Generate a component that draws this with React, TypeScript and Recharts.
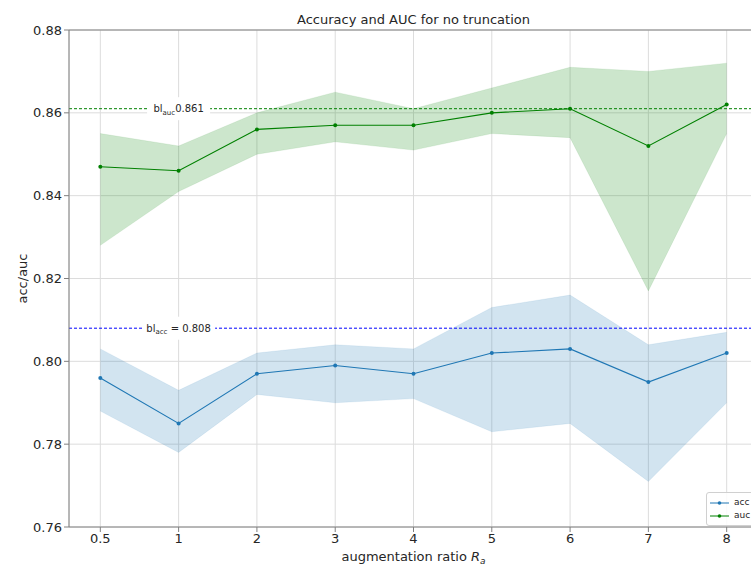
import React from 'react';
import {
  ComposedChart,
  Line,
  Area,
  XAxis,
  YAxis,
  CartesianGrid,
  ReferenceLine,
  Legend,
} from 'recharts';

// ---------- data ----------
const xLabels = ['0.5', '1', '2', '3', '4', '5', '6', '7', '8'];
const accMean = [0.796, 0.785, 0.797, 0.799, 0.797, 0.802, 0.803, 0.795, 0.802];
const accLow = [0.788, 0.778, 0.792, 0.79, 0.791, 0.783, 0.785, 0.771, 0.79];
const accHigh = [0.803, 0.793, 0.802, 0.804, 0.803, 0.813, 0.816, 0.804, 0.807];
const aucMean = [0.847, 0.846, 0.856, 0.857, 0.857, 0.86, 0.861, 0.852, 0.862];
const aucLow = [0.828, 0.841, 0.85, 0.853, 0.851, 0.855, 0.854, 0.817, 0.855];
const aucHigh = [0.855, 0.852, 0.86, 0.865, 0.861, 0.866, 0.871, 0.87, 0.872];
const yTicks = [0.76, 0.78, 0.8, 0.82, 0.84, 0.86, 0.88];
const blAcc = 0.808;
const blAuc = 0.861;
const labelAtIndex = 1; // baseline labels centered at category "1"

const xDomain: [number, number] = [-0.4, 8.4];
const xTicks = xLabels.map((_, i) => i);

const data = xLabels.map((label, i) => ({
  idx: i,
  label,
  acc: accMean[i],
  auc: aucMean[i],
  accBand: [accLow[i], accHigh[i]],
  aucBand: [aucLow[i], aucHigh[i]],
}));

// ---------- styles ----------
const FONT = 'DejaVu Sans, sans-serif';
const BLUE = '#1f77b4';
const GREEN = '#008000';
const SPINE = '#808080';
const TEXT = '#262626';

const BaselineLabel = (props: any) => {
  const { viewBox, kind } = props;
  if (!viewBox) return null;
  const frac = (labelAtIndex - xDomain[0]) / (xDomain[1] - xDomain[0]);
  const cx = viewBox.x + viewBox.width * frac;
  const cy = viewBox.y;
  const w = kind === 'auc' ? 63 : 73;
  return (
    <g>
      <rect x={cx - w / 2} y={cy - 11.5} width={w} height={23} fill="#ffffff" />
      <text
        x={cx}
        y={cy + 3.5}
        textAnchor="middle"
        fontFamily={FONT}
        fontSize={10}
        fill={TEXT}
      >
        bl
        <tspan fontSize={7} dy={2.5}>
          {kind}
        </tspan>
        <tspan dy={-2.5}>{kind === 'auc' ? `${blAuc}` : ` = ${blAcc}`}</tspan>
      </text>
    </g>
  );
};

const YLabel = (props: any) => {
  const { viewBox } = props;
  if (!viewBox) return null;
  const x = viewBox.x + 22;
  const y = viewBox.y + viewBox.height / 2;
  return (
    <text
      x={x}
      y={y}
      transform={`rotate(-90, ${x}, ${y})`}
      textAnchor="middle"
      dominantBaseline="central"
      fontFamily={FONT}
      fontSize={13}
      fill={TEXT}
    >
      acc/auc
    </text>
  );
};

const XLabel = (props: any) => {
  const { viewBox } = props;
  if (!viewBox) return null;
  const x = viewBox.x + viewBox.width / 2;
  const y = viewBox.y + 34;
  return (
    <text x={x} y={y} textAnchor="middle" fontFamily={FONT} fontSize={13} fill={TEXT}>
      augmentation ratio{' '}
      <tspan fontStyle="italic">R</tspan>
      <tspan fontStyle="italic" fontSize={9} dy={3}>
        a
      </tspan>
    </text>
  );
};

const renderLegend = () => (
  <div
    style={{
      background: 'rgba(255,255,255,0.85)',
      border: '1px solid #d0d0d0',
      borderRadius: 3,
      padding: '3px 10px 3px 3px',
      fontFamily: FONT,
      fontSize: 9,
      lineHeight: '13px',
      color: TEXT,
    }}
  >
    {[
      { n: 'acc', c: BLUE },
      { n: 'auc', c: GREEN },
    ].map((e) => (
      <div key={e.n} style={{ display: 'flex', alignItems: 'center' }}>
        <svg width={19} height={8} style={{ display: 'block' }}>
          <line x1={0} y1={4} x2={19} y2={4} stroke={e.c} strokeWidth={1} />
          <circle cx={9.5} cy={4} r={1.8} fill={e.c} />
        </svg>
        <span style={{ marginLeft: 5 }}>{e.n}</span>
      </div>
    ))}
  </div>
);

export default function App() {
  return (
    <div
      style={{
        position: 'relative',
        width: 751,
        height: 566,
        overflow: 'hidden',
        background: '#ffffff',
        fontFamily: FONT,
      }}
    >
      <style>{`html,body{margin:0;padding:0;overflow:hidden;background:#fff;}`}</style>
      <div
        style={{
          position: 'absolute',
          left: 69,
          width: 689,
          top: 12,
          textAlign: 'center',
          fontSize: 13,
          lineHeight: '16px',
          color: TEXT,
          fontFamily: FONT,
        }}
      >
        Accuracy and AUC for no truncation
      </div>
      <ComposedChart
        width={790}
        height={566}
        data={data}
        margin={{ top: 30, right: 32, bottom: 0, left: 0 }}
      >
        <CartesianGrid stroke="#dcdcdc" strokeWidth={1} />
        <XAxis
          dataKey="idx"
          type="number"
          domain={xDomain}
          ticks={xTicks}
          allowDataOverflow
          tickFormatter={(v: number) => xLabels[v] ?? ''}
          height={39}
          tickSize={5}
          tickMargin={2}
          stroke={SPINE}
          tick={{ fill: TEXT, fontSize: 13, fontFamily: FONT }}
          label={<XLabel />}
        />
        <YAxis
          type="number"
          domain={[0.76, 0.88]}
          ticks={yTicks}
          width={69}
          tickSize={5}
          tickMargin={2}
          stroke={SPINE}
          tickFormatter={(v: number) => v.toFixed(2)}
          tick={{ fill: TEXT, fontSize: 13, fontFamily: FONT }}
          label={<YLabel />}
        />
        <ReferenceLine y={0.88} stroke={SPINE} strokeWidth={1} />
        <Area
          type="linear"
          dataKey="aucBand"
          fill={GREEN}
          fillOpacity={0.2}
          stroke={GREEN}
          strokeOpacity={0.08}
          isAnimationActive={false}
          activeDot={false}
        />
        <Area
          type="linear"
          dataKey="accBand"
          fill={BLUE}
          fillOpacity={0.2}
          stroke={BLUE}
          strokeOpacity={0.08}
          isAnimationActive={false}
          activeDot={false}
        />
        <ReferenceLine
          y={blAuc}
          stroke={GREEN}
          strokeWidth={1}
          strokeDasharray="3 2"
          label={(p: any) => <BaselineLabel {...p} kind="auc" />}
        />
        <ReferenceLine
          y={blAcc}
          stroke="#0000ff"
          strokeWidth={1}
          strokeDasharray="3 2"
          label={(p: any) => <BaselineLabel {...p} kind="acc" />}
        />
        <Line
          type="linear"
          dataKey="acc"
          stroke={BLUE}
          strokeWidth={1.1}
          dot={{ r: 2, fill: BLUE, stroke: BLUE, strokeWidth: 0 }}
          activeDot={false}
          isAnimationActive={false}
        />
        <Line
          type="linear"
          dataKey="auc"
          stroke={GREEN}
          strokeWidth={1.1}
          dot={{ r: 2, fill: GREEN, stroke: GREEN, strokeWidth: 0 }}
          activeDot={false}
          isAnimationActive={false}
        />
        <Legend
          layout="horizontal"
          verticalAlign="middle"
          align="center"
          content={renderLegend}
          wrapperStyle={{ position: 'absolute', left: 706, top: 492, width: 'auto', height: 'auto' }}
        />
      </ComposedChart>
    </div>
  );
}
